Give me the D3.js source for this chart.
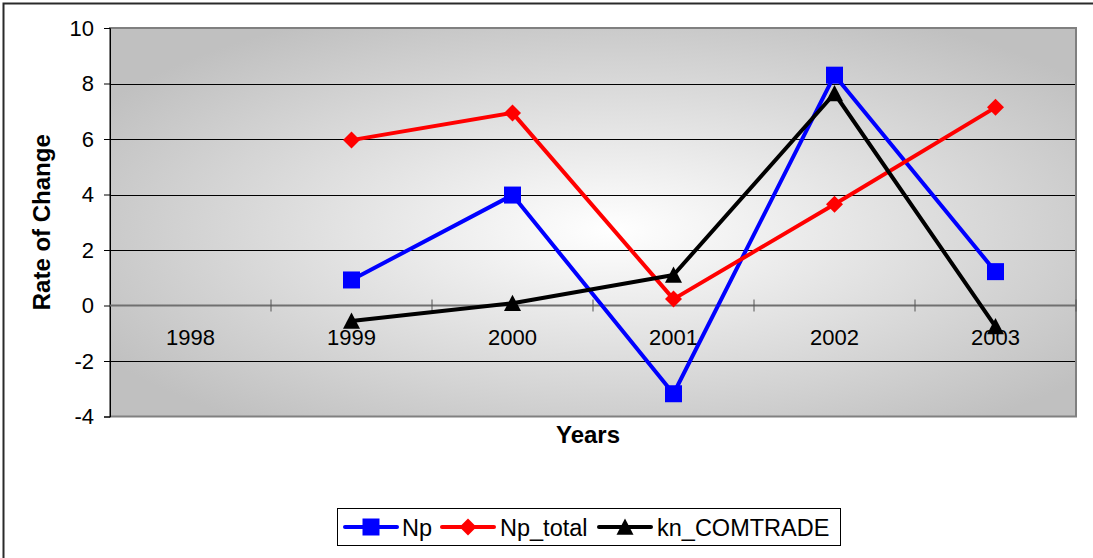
<!DOCTYPE html>
<html>
<head>
<meta charset="utf-8">
<script src="https://cdn.jsdelivr.net/npm/d3@7"></script>
<style>
  html, body { margin: 0; padding: 0; background: #fff; }
  svg { display: block; font-family: Arial, "Liberation Sans", sans-serif; }
</style>
</head>
<body>
<svg id="chart" width="1093" height="558"></svg>
<script>
// Categories and series values
const years = ["1998", "1999", "2000", "2001", "2002", "2003"];
const npValues = [null, 0.92, 3.98, -3.18, 8.30, 1.22];
const npTotalValues = [null, 5.96, 6.94, 0.23, 3.65, 7.14];
const knComtradeValues = [null, -0.56, 0.08, 1.10, 7.64, -0.76];
const yTicks = [-4, -2, 0, 2, 4, 6, 8, 10];

const seriesNames = ["Np", "Np_total", "kn_COMTRADE"];
const seriesColors = ["#0000ff", "#ff0000", "#000000"];
const seriesMarkers = ["square", "diamond", "triangle"];
const seriesValues = [npValues, npTotalValues, knComtradeValues];

const svg = d3.select("#chart");
const W = 1093, H = 558;

// Chart frame
svg.append("rect")
  .attr("x", 3.5).attr("y", 3.5)
  .attr("width", W + 10).attr("height", H + 10)
  .attr("fill", "#fff").attr("stroke", "#2a2a2a").attr("stroke-width", 2);

const plot = { left: 110, top: 28, right: 1076, bottom: 416.5 };

const x = d3.scaleBand().domain(years).range([plot.left, plot.right]).padding(0);
const y = d3.scaleLinear().domain([-4, 10]).range([plot.bottom, plot.top]);

// Plot background gradient
const defs = svg.append("defs");
const grad = defs.append("radialGradient")
  .attr("id", "plotBg")
  .attr("cx", "0.52").attr("cy", "0.52").attr("r", "0.62")
  .attr("fx", "0.52").attr("fy", "0.52");
grad.append("stop").attr("offset", "0%").attr("stop-color", "#ffffff");
grad.append("stop").attr("offset", "100%").attr("stop-color", "#c0c0c0");

svg.append("rect")
  .attr("x", plot.left).attr("y", plot.top)
  .attr("width", plot.right - plot.left).attr("height", plot.bottom - plot.top)
  .attr("fill", "url(#plotBg)");

// Horizontal gridlines
svg.append("g")
  .selectAll("line")
  .data(yTicks.filter(t => t !== 0 && t !== -4))
  .join("line")
  .attr("x1", plot.left).attr("x2", plot.right)
  .attr("y1", d => Math.round(y(d)) + 0.5).attr("y2", d => Math.round(y(d)) + 0.5)
  .attr("stroke", "#000").attr("stroke-width", 1);

// Plot border
svg.append("rect")
  .attr("x", plot.left).attr("y", plot.top)
  .attr("width", plot.right - plot.left).attr("height", plot.bottom - plot.top)
  .attr("fill", "none").attr("stroke", "#808080").attr("stroke-width", 2);

// Y axis
const yAxis = d3.axisLeft(y).tickValues(yTicks).tickSize(6).tickPadding(10).tickFormat(d => String(d));
const gy = svg.append("g").attr("transform", `translate(${plot.left},0)`).call(yAxis);
gy.select(".domain").attr("stroke", "#000").attr("stroke-width", 1);
gy.selectAll(".tick line").attr("stroke", "#000");
gy.selectAll(".tick text")
  .attr("font-size", 22).attr("fill", "#000")
  .attr("font-family", "Arial, 'Liberation Sans', sans-serif");

// Category axis crossing at zero
const zeroY = y(0);
svg.append("line")
  .attr("x1", plot.left).attr("x2", plot.right)
  .attr("y1", zeroY).attr("y2", zeroY)
  .attr("stroke", "#707070").attr("stroke-width", 2);

const boundaries = years.map((yr, i) => x(yr)).concat([x(years[years.length - 1]) + x.bandwidth()]);
svg.append("g")
  .selectAll("line")
  .data(boundaries.slice(1))
  .join("line")
  .attr("x1", d => d).attr("x2", d => d)
  .attr("y1", zeroY - 6).attr("y2", zeroY + 6)
  .attr("stroke", "#555").attr("stroke-width", 1);

svg.append("g")
  .selectAll("text")
  .data(years)
  .join("text")
  .attr("x", d => x(d) + x.bandwidth() / 2)
  .attr("y", zeroY + 39)
  .attr("text-anchor", "middle")
  .attr("font-size", 22)
  .attr("fill", "#000")
  .text(d => d);

// Axis titles
svg.append("text")
  .attr("transform", `translate(50,${(plot.top + plot.bottom) / 2}) rotate(-90)`)
  .attr("text-anchor", "middle")
  .attr("font-size", 24).attr("font-weight", "bold")
  .text("Rate of Change");

svg.append("text")
  .attr("x", 588).attr("y", 443)
  .attr("text-anchor", "middle")
  .attr("font-size", 24).attr("font-weight", "bold")
  .text("Years");

// Marker shapes
function markerPath(type, size) {
  const h = size / 2;
  if (type === "square") return `M${-h},${-h}H${h}V${h}H${-h}Z`;
  if (type === "diamond") return `M0,${-h}L${h},0L0,${h}L${-h},0Z`;
  return `M0,${-h}L${h},${h * 0.9}L${-h},${h * 0.9}Z`;
}
const markerSize = { square: 17, diamond: 17, triangle: 17 };

const line = d3.line()
  .defined(d => d.v !== null)
  .x(d => x(d.year) + x.bandwidth() / 2)
  .y(d => y(d.v));

seriesValues.forEach((vals, si) => {
  const pts = years.map((yr, i) => ({ year: yr, v: vals[i] }));
  const g = svg.append("g");
  g.append("path")
    .datum(pts)
    .attr("d", line)
    .attr("fill", "none")
    .attr("stroke", seriesColors[si])
    .attr("stroke-width", 4)
    .attr("stroke-linejoin", "round");
  g.selectAll("path.marker")
    .data(pts.filter(d => d.v !== null))
    .join("path")
    .attr("class", "marker")
    .attr("transform", d => `translate(${x(d.year) + x.bandwidth() / 2},${y(d.v)})`)
    .attr("d", markerPath(seriesMarkers[si], markerSize[seriesMarkers[si]]))
    .attr("fill", seriesColors[si]);
});

// Legend
const legend = svg.append("g");
legend.append("rect")
  .attr("x", 337.5).attr("y", 508.5)
  .attr("width", 503).attr("height", 37)
  .attr("fill", "#fff").attr("stroke", "#000").attr("stroke-width", 1);

const legendItems = [
  { lineX: 345, textX: 402 },
  { lineX: 442, textX: 500 },
  { lineX: 599, textX: 657 }
];
legendItems.forEach((it, i) => {
  const cy = 527;
  legend.append("line")
    .attr("x1", it.lineX).attr("x2", it.lineX + 52)
    .attr("y1", cy).attr("y2", cy)
    .attr("stroke", seriesColors[i]).attr("stroke-width", 4)
    .attr("stroke-linecap", "round");
  legend.append("path")
    .attr("transform", `translate(${it.lineX + 26},${cy})`)
    .attr("d", markerPath(seriesMarkers[i], markerSize[seriesMarkers[i]]))
    .attr("fill", seriesColors[i]);
  legend.append("text")
    .attr("x", it.textX).attr("y", cy + 8.5)
    .attr("font-size", 23.5)
    .attr("fill", "#000")
    .text(seriesNames[i]);
});
</script>
</body>
</html>
